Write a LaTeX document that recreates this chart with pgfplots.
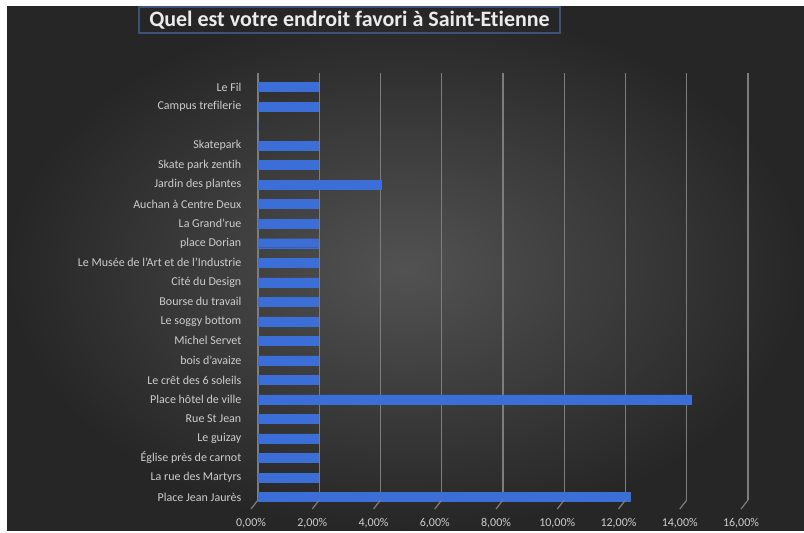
\documentclass[border=0pt]{standalone}
\usepackage{fontspec}
\setmainfont{Carlito}[Ligatures={NoCommon}]
\usepackage{pgfplots}
\pgfplotsset{compat=1.18}
\definecolor{gridc}{RGB}{125,125,125}
\definecolor{labc}{RGB}{205,205,205}
\definecolor{barmid}{RGB}{60,110,216}
\definecolor{bgin}{RGB}{82,82,82}
\definecolor{bgout}{RGB}{38,38,38}
\definecolor{titleb}{RGB}{62,82,120}
\begin{document}
\begin{tikzpicture}
\fill[white] (0,0) rectangle (603pt,398.25pt);
\shade[inner color=bgin, outer color=bgout] (5.25pt,0) rectangle (603pt,393pt);
\node[draw=titleb, line width=0.8pt, minimum width=315.75pt, minimum height=19.5pt, inner sep=0pt,
      text={rgb,255:red,235;green,235;blue,235}, font=\bfseries\fontsize{16.5}{18}\selectfont] at (262.1pt,383.25pt)
      {Quel est votre endroit favori à Saint-Etienne};
\begin{axis}[
  scale only axis,
  at={(193.5pt,23.25pt)}, anchor=south west,
  width=367.5pt, height=320.25pt,
  xmin=0, xmax=16, ymin=-0.15, ymax=21.72,
  clip=false,
  axis line style={draw=none},
  xmajorgrids, major grid style={draw=gridc, line width=0.9pt},
  major tick length=0pt,
  xtick={0,2,4,6,8,10,12,14,16},
  xticklabels={{0,00\%},{2,00\%},{4,00\%},{6,00\%},{8,00\%},{10,00\%},{12,00\%},{14,00\%},{16,00\%}},
  ytick={0,...,21},
  yticklabels={Place Jean Jaurès, La rue des Martyrs, Église près de carnot, Le guizay, Rue St Jean, Place hôtel de ville, Le crêt des 6 soleils, bois d'avaize, Michel Servet, Le soggy bottom, Bourse du travail, Cité du Design, Le Musée de l'Art et de l'Industrie, place Dorian\hspace{3.5pt}, La Grand'rue, Auchan à Centre Deux, Jardin des plantes, Skate park zentih, Skatepark\hspace{3.5pt}, {}, Campus trefilerie, Le Fil\hspace{7pt}},
  ticklabel style={font=\fontsize{9}{10.5}\selectfont, text=labc},
  /pgf/number format/assume math mode=true,
  yticklabel style={xshift=-9pt},
  xticklabel style={xshift=-5.25pt, yshift=-10pt},
  xbar, bar width=6.75pt,
]
\addplot[draw=barmid, line width=0.3pt, fill=barmid] coordinates {
(12.15,0) (1.98,1) (1.98,2) (1.98,3) (1.98,4) (14.15,5) (1.98,6) (1.98,7) (1.98,8) (1.98,9) (1.98,10) (1.98,11) (1.98,12) (1.98,13) (1.98,14) (1.98,15) (4.02,16) (1.98,17) (1.98,18) (0,19) (1.98,20) (1.98,21)
};
\pgfplotsinvokeforeach{0,2,4,6,8,10,12,14,16}{
  \draw[gridc, line width=0.9pt] (axis cs:#1,-0.15) -- ++(-5.25pt,-6.75pt);
}
\end{axis}
\end{tikzpicture}
\end{document}
